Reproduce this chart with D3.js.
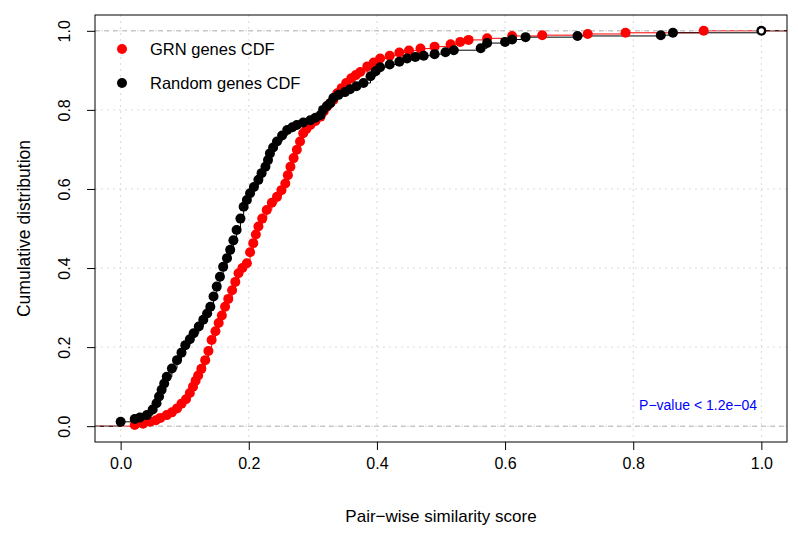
<!DOCTYPE html>
<html>
<head>
<meta charset="utf-8">
<script src="https://cdn.jsdelivr.net/npm/d3@7"></script>
<style>
  html, body { margin: 0; padding: 0; background: #fff; }
  svg { display: block; }
  text { font-family: "Liberation Sans", Arial, Helvetica, sans-serif; }
</style>
</head>
<body>
<svg id="chart" width="798" height="533"></svg>
<script>
// ---- data ----
const seriesNames = ["GRN genes CDF", "Random genes CDF"];
const seriesColors = ["#ff0000", "#000000"];

const grnX = [0.022,0.035,0.046,0.055,0.062,0.072,0.080,0.088,0.095,0.102,0.108,0.113,0.117,0.121,0.126,0.132,0.137,0.142,0.148,0.153,0.158,0.163,0.168,0.174,0.179,0.184,0.190,0.197,0.202,0.207,0.211,0.215,0.221,0.228,0.236,0.244,0.251,0.257,0.261,0.265,0.270,0.275,0.280,0.285,0.290,0.296,0.304,0.312,0.317,0.322,0.327,0.332,0.338,0.345,0.352,0.360,0.367,0.374,0.385,0.395,0.405,0.420,0.435,0.450,0.468,0.490,0.515,0.530,0.543,0.572,0.611,0.658,0.729,0.788,0.910];
const grnY = [0.003,0.006,0.011,0.015,0.021,0.028,0.035,0.045,0.057,0.068,0.084,0.100,0.115,0.128,0.145,0.167,0.190,0.218,0.240,0.261,0.280,0.302,0.322,0.344,0.365,0.387,0.400,0.412,0.440,0.463,0.485,0.505,0.525,0.547,0.565,0.580,0.597,0.614,0.635,0.656,0.678,0.699,0.720,0.741,0.752,0.762,0.772,0.783,0.796,0.808,0.817,0.825,0.842,0.855,0.868,0.880,0.888,0.896,0.910,0.920,0.930,0.937,0.945,0.950,0.955,0.960,0.966,0.972,0.977,0.981,0.987,0.989,0.992,0.995,1.000];

const rndX = [0.000,0.022,0.030,0.041,0.050,0.056,0.060,0.064,0.068,0.072,0.080,0.088,0.095,0.101,0.108,0.114,0.122,0.129,0.135,0.140,0.145,0.150,0.155,0.160,0.166,0.171,0.176,0.181,0.187,0.192,0.197,0.202,0.208,0.215,0.220,0.226,0.230,0.233,0.238,0.244,0.252,0.260,0.268,0.275,0.285,0.296,0.304,0.312,0.316,0.322,0.327,0.332,0.340,0.350,0.358,0.368,0.379,0.390,0.398,0.405,0.420,0.435,0.447,0.460,0.473,0.490,0.507,0.520,0.562,0.572,0.600,0.611,0.632,0.713,0.843,0.862,1.000];
const rndY = [0.011,0.018,0.022,0.028,0.042,0.058,0.075,0.092,0.108,0.125,0.146,0.167,0.186,0.205,0.220,0.235,0.252,0.269,0.285,0.302,0.328,0.353,0.378,0.403,0.425,0.446,0.470,0.496,0.525,0.555,0.572,0.589,0.605,0.623,0.640,0.656,0.673,0.690,0.705,0.720,0.735,0.749,0.756,0.762,0.768,0.774,0.780,0.787,0.800,0.810,0.817,0.830,0.838,0.845,0.852,0.860,0.868,0.885,0.898,0.908,0.915,0.922,0.930,0.934,0.937,0.941,0.946,0.951,0.956,0.969,0.972,0.978,0.984,0.987,0.989,0.995,1.000];

const xTicks = [0, 0.2, 0.4, 0.6, 0.8, 1.0];
const yTicks = [0, 0.2, 0.4, 0.6, 0.8, 1.0];
const xTitle = "Pair\u2212wise similarity score";
const yTitle = "Cumulative distribution";
const pText = "P\u2212value < 1.2e\u221204";

// ---- layout ----
const svg = d3.select("#chart");
const L = 95, R = 787, T = 15, B = 442;
const x = d3.scaleLinear().domain([-0.04, 1.04]).range([L, R]);
const y = d3.scaleLinear().domain([-0.04, 1.04]).range([B, T]);

svg.append("defs").append("clipPath").attr("id", "clip")
  .append("rect").attr("x", L).attr("y", T).attr("width", R - L).attr("height", B - T);

// grid (dotted light gray)
const grid = svg.append("g");
grid.selectAll(".gx").data(xTicks).enter().append("line")
  .attr("x1", d => x(d)).attr("x2", d => x(d)).attr("y1", T).attr("y2", B)
  .attr("stroke", "#d9d9d9").attr("stroke-width", 1).attr("stroke-dasharray", "2,4");
grid.selectAll(".gy").data(yTicks).enter().append("line")
  .attr("y1", d => y(d)).attr("y2", d => y(d)).attr("x1", L).attr("x2", R)
  .attr("stroke", "#d9d9d9").attr("stroke-width", 1).attr("stroke-dasharray", "2,4");

const plot = svg.append("g").attr("clip-path", "url(#clip)");

function drawSeries(xs, ys, color) {
  const pts = xs.map((v, i) => [v, ys[i]]);
  const stepPts = [[-0.1, 0], [xs[0], 0]].concat(pts).concat([[1.1, ys[ys.length - 1]]]);
  const line = d3.line().x(d => x(d[0])).y(d => y(d[1])).curve(d3.curveStepAfter);
  plot.append("path").datum(stepPts).attr("d", line)
    .attr("fill", "none").attr("stroke", color).attr("stroke-width", 1);
  return pts;
}

const grnPts = drawSeries(grnX, grnY, seriesColors[0]);
const rndPts = drawSeries(rndX, rndY, seriesColors[1]);

// dashed 0 / 1 reference lines
[0, 1].forEach(v => {
  plot.append("line").attr("x1", L).attr("x2", R).attr("y1", y(v)).attr("y2", y(v))
    .attr("stroke", "#b3b3b3").attr("stroke-width", 1).attr("stroke-dasharray", "5,4");
});

const rad = 5;
plot.append("g").selectAll("circle").data(grnPts).enter().append("circle")
  .attr("cx", d => x(d[0])).attr("cy", d => y(d[1])).attr("r", rad)
  .attr("fill", seriesColors[0]);
plot.append("g").selectAll("circle").data(rndPts).enter().append("circle")
  .attr("cx", d => x(d[0])).attr("cy", d => y(d[1])).attr("r", rad)
  .attr("fill", seriesColors[1]);
const lastR = rndPts[rndPts.length - 1];
plot.append("circle").attr("cx", x(lastR[0])).attr("cy", y(lastR[1])).attr("r", 2.6).attr("fill", "#fff");

// box
svg.append("rect").attr("x", L).attr("y", T).attr("width", R - L).attr("height", B - T)
  .attr("fill", "none").attr("stroke", "#000").attr("stroke-width", 1);

// axes
const fmt = d3.format(".1f");
const xAxis = svg.append("g").attr("transform", `translate(0,${B})`)
  .call(d3.axisBottom(x).tickValues(xTicks).tickFormat(fmt).tickSize(8).tickSizeOuter(0).tickPadding(8));
xAxis.select(".domain").remove();
xAxis.selectAll("text").attr("font-size", 16).attr("fill", "#000")
  .attr("font-family", "Liberation Sans, Arial, sans-serif");
xAxis.selectAll("line").attr("stroke", "#000");

const yAxis = svg.append("g").attr("transform", `translate(${L},0)`)
  .call(d3.axisLeft(y).tickValues(yTicks).tickFormat(fmt).tickSize(8).tickSizeOuter(0));
yAxis.select(".domain").remove();
yAxis.selectAll("line").attr("stroke", "#000");
yAxis.selectAll("text").attr("font-size", 16).attr("fill", "#000")
  .attr("font-family", "Liberation Sans, Arial, sans-serif")
  .attr("x", null).attr("dy", null)
  .attr("text-anchor", "middle")
  .attr("transform", "translate(-31,0) rotate(-90)")
  .attr("dominant-baseline", "central");

// axis titles
svg.append("text").attr("x", (L + R) / 2).attr("y", 522).attr("text-anchor", "middle")
  .attr("font-size", 17).text(xTitle);
svg.append("text").attr("transform", `translate(30,${(T + B) / 2}) rotate(-90)`)
  .attr("text-anchor", "middle").attr("font-size", 17.5).text(yTitle);

// legend
const legend = svg.append("g");
seriesNames.forEach((name, i) => {
  const ly = 49 + i * 34;
  legend.append("circle").attr("cx", 122).attr("cy", ly).attr("r", rad).attr("fill", seriesColors[i]);
  legend.append("text").attr("x", 150).attr("y", ly).attr("dominant-baseline", "central")
    .attr("font-size", 16.5).text(name);
});

// p-value annotation
svg.append("text").attr("x", 757).attr("y", 405).attr("text-anchor", "end")
  .attr("dominant-baseline", "central").attr("font-size", 14).attr("fill", "#0000ff").text(pText);
</script>
</body>
</html>
